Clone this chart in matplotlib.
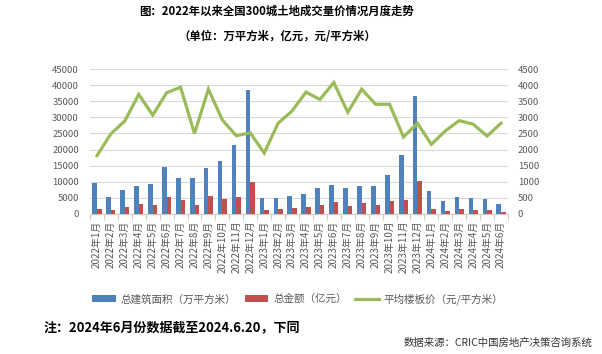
import matplotlib
matplotlib.use("Agg")
import matplotlib.pyplot as plt
from matplotlib.patches import Patch
from matplotlib.lines import Line2D
import numpy as np

plt.rcParams['font.family'] = ['Noto Sans CJK SC', 'DejaVu Sans']

months = ([f"2022年{m}月" for m in range(1, 13)] +
          [f"2023年{m}月" for m in range(1, 13)] +
          [f"2024年{m}月" for m in range(1, 7)])

area = [9700, 5200, 7400, 8500, 9250, 14600, 11000, 11000, 14200, 16400, 21400, 38700,
        4800, 4800, 5500, 6100, 8000, 8900, 8000, 8600, 8600, 12100, 18300, 36700,
        7100, 3950, 5200, 4800, 4600, 2900]
amount = [1500, 1100, 2100, 3000, 2700, 5200, 4300, 2700, 5500, 4700, 5300, 9800,
          1000, 1350, 1800, 2100, 2700, 3600, 2400, 3300, 2700, 4050, 4300, 10200,
          1450, 800, 1450, 1150, 1150, 600]
price = [1810, 2490, 2890, 3720, 3070, 3770, 3940, 2500, 3880, 2920, 2430, 2520,
         1890, 2820, 3200, 3790, 3560, 4090, 3160, 3880, 3410, 3410, 2390, 2820,
         2160, 2580, 2900, 2790, 2420, 2820]

title = "图：2022年以来全国300城土地成交量价情况月度走势"
subtitle = "（单位：万平方米，亿元，元/平方米）"
legend_labels = ["总建筑面积（万平方米）", "总金额（亿元）", "平均楼板价（元/平方米）"]
note = "注：2024年6月份数据截至2024.6.20，下同"
source = "数据来源：CRIC中国房地产决策咨询系统"

blue = '#4F81BD'
red = '#C0504D'
green = '#9BBB59'
tick_color = '#595959'

W, H = 602, 354
fig = plt.figure(figsize=(W / 100, H / 100), dpi=100)
ax = fig.add_axes([90 / W, 1 - 213.7 / H, 418 / W, 144.4 / H])
ax2 = ax.twinx()

x = np.arange(len(months))
bw = 0.33
ax.bar(x - bw / 2, area, width=bw, color=blue, zorder=3)
ax.bar(x + bw / 2, amount, width=bw, color=red, zorder=3)
ax2.plot(x, price, color=green, lw=2.3, solid_joinstyle='miter', zorder=4)

ax.set_xlim(-0.5, len(months) - 0.5)
ax.set_ylim(0, 45000)
ax.set_yticks(np.arange(0, 45001, 5000))
ax2.set_ylim(0, 4500)
ax2.set_yticks(np.arange(0, 4501, 500))
ax.grid(axis='y', color='#D9D9D9', lw=0.8, zorder=0)
ax.set_axisbelow(True)

for a in (ax, ax2):
    for s in ('top', 'left', 'right', 'bottom'):
        a.spines[s].set_visible(False)
ax.spines['bottom'].set_visible(True)
ax.spines['bottom'].set_color('#D9C9B8')
ax.spines['bottom'].set_linewidth(0.8)

ax.tick_params(axis='y', length=0, labelsize=6.8, labelcolor=tick_color, pad=8)
ax2.tick_params(axis='y', length=0, labelsize=6.8, labelcolor=tick_color, pad=7)

ax.set_xticks(x)
ax.set_xticklabels(months, rotation=90, fontsize=7.1, color=tick_color)
ax.tick_params(axis='x', length=0, pad=5)
ax.set_xticks(np.arange(-0.5, len(months), 1), minor=True)
ax.tick_params(axis='x', which='minor', length=4, color='#D9C9B8', width=0.8)

fig.text(277 / W, 1 - 11 / H, title, ha='center', va='center', fontsize=8.2,
         fontweight='bold', color='black')
fig.text(277 / W, 1 - 37 / H, subtitle, ha='center', va='center', fontsize=8.2,
         fontweight='bold', color='black')

handles = [Patch(facecolor=blue), Patch(facecolor=red), Line2D([0], [0], color=green, lw=2.3)]
leg = fig.legend(handles, legend_labels, loc='center', bbox_to_anchor=(298 / W, 1 - 299 / H),
                 ncol=3, frameon=False, fontsize=7.6, handlelength=2.2, handleheight=0.55,
                 columnspacing=0.8, handletextpad=0.5)
for t in leg.get_texts():
    t.set_color(tick_color)

fig.text(44 / W, 1 - 327 / H, note, ha='left', va='center', fontsize=9.4,
         fontweight='bold', color='black')
fig.text(592 / W, 1 - 343 / H, source, ha='right', va='center', fontsize=7.5,
         color='#333333')

fig.savefig('out.png', dpi=100)
